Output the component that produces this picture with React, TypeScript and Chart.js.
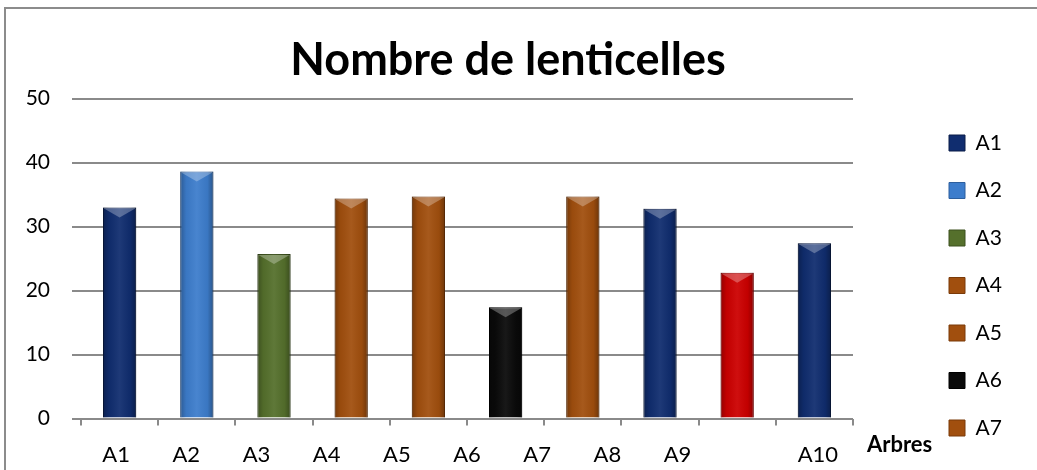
import React, { useEffect, useRef } from "react";
import { Chart, registerables } from "chart.js";

Chart.register(...registerables);

const chartTitle = "Nombre de lenticelles";
const xAxisTitle = "Arbres";
const categories = ["A1", "A2", "A3", "A4", "A5", "A6", "A7", "A8", "A9", "A10"];
const values = [33.0, 38.6, 25.7, 34.4, 34.7, 17.4, 34.7, 32.8, 22.8, 27.4];
const barColors = [
  "#102d6f", "#3d7dcc", "#55702c", "#a14f0e", "#a14f0e",
  "#0a0a0a", "#a14f0e", "#102d6f", "#cc0000", "#102d6f",
];
const barBorders = [
  "#0a1d49", "#2d5f9e", "#3c501e", "#7a3a08", "#7a3a08",
  "#000000", "#7a3a08", "#0a1d49", "#990000", "#0a1d49",
];
// labels of the category axis as printed under the plot
const axisLabels = ["A1", "A2", "A3", "A4", "A5", "A6", "A7", "A8", "A9", "", "A10"];
const yTickValues = [0, 10, 20, 30, 40, 50];
const legendShown = 7;

const FONT = "Lato";
const LEGEND_FONT = 21;
const LEGEND_BOX = 16;
const LEGEND_PAD = 26.5;
const LEGEND_WIDTH = 93.5; // block width reserved for the legend
const PAD_RIGHT = 21;
const GAP = 69.5; // space between plot and legend block
const Y_AXIS_WIDTH = 81;

const legendWidthPlugin = {
  id: "legendWidth",
  beforeUpdate(chart: any) {
    const lg = chart.legend;
    if (lg && !lg.__fixedWidth) {
      const orig = lg.fit.bind(lg);
      lg.fit = function () {
        orig();
        this.width = LEGEND_WIDTH;
      };
      lg.__fixedWidth = true;
    }
  },
};

const bevelPlugin = {
  id: "bevel",
  afterDatasetsDraw(chart: any) {
    const ctx = chart.ctx;
    chart.data.datasets.forEach((_: any, di: number) => {
      const meta = chart.getDatasetMeta(di);
      meta.data.forEach((el: any, i: number) => {
        const v = chart.data.datasets[di].data[i];
        if (v === null || v === undefined) return;
        const { x, y, width, base } = el.getProps(["x", "y", "width", "base"], true);
        const left = x - width / 2;
        const right = x + width / 2;
        ctx.save();
        const g = ctx.createLinearGradient(left, 0, right, 0);
        g.addColorStop(0, "rgba(0,0,0,0.28)");
        g.addColorStop(0.18, "rgba(0,0,0,0.05)");
        g.addColorStop(0.5, "rgba(255,255,255,0.06)");
        g.addColorStop(0.82, "rgba(0,0,0,0.05)");
        g.addColorStop(1, "rgba(0,0,0,0.32)");
        ctx.fillStyle = g;
        ctx.fillRect(left, y, width, base - y);
        ctx.beginPath();
        ctx.moveTo(left + 1, y + 1);
        ctx.lineTo(right - 1, y + 1);
        ctx.lineTo(x, y + width * 0.3);
        ctx.closePath();
        ctx.fillStyle = "rgba(255,255,255,0.28)";
        ctx.fill();
        ctx.restore();
      });
    });
  },
};

const axisTitlePlugin = {
  id: "axisTitleRight",
  afterDraw(chart: any) {
    const { ctx, chartArea } = chart;
    ctx.save();
    ctx.font = `bold 22px ${FONT}`;
    ctx.fillStyle = "#000";
    ctx.textAlign = "left";
    ctx.textBaseline = "middle";
    ctx.fillText(xAxisTitle, chartArea.right + 14, chartArea.bottom + 26.5);
    ctx.restore();
  },
};

export default function App() {
  const ref = useRef<HTMLCanvasElement | null>(null);

  useEffect(() => {
    if (!ref.current) return;
    const datasets = categories.map((name, i) => ({
      label: name,
      data: categories.map((_, j) => (j === i ? values[i] : null)),
      backgroundColor: barColors[i],
      borderColor: barBorders[i],
      borderWidth: 1,
      grouped: false,
      barPercentage: 0.43,
      categoryPercentage: 1,
      xAxisID: "x",
      yAxisID: "y",
    }));
    const gridColor = "#8a8a8a";
    const chart = new Chart(ref.current, {
      type: "bar",
      data: { labels: categories, datasets },
      plugins: [legendWidthPlugin, bevelPlugin, axisTitlePlugin],
      options: {
        animation: false,
        responsive: false,
        maintainAspectRatio: false,
        devicePixelRatio: 1,
        layout: { padding: { left: 0, right: PAD_RIGHT, top: 0, bottom: 5 } },
        plugins: {
          tooltip: { enabled: false },
          title: {
            display: true,
            text: chartTitle,
            color: "#000",
            font: { family: FONT, size: 45, weight: "bold" },
            padding: { top: 33, bottom: 11.7 },
          },
          legend: {
            position: "right",
            align: "end",
            labels: {
              color: "#000",
              font: { family: FONT, size: LEGEND_FONT },
              boxWidth: LEGEND_BOX,
              boxHeight: LEGEND_BOX,
              padding: LEGEND_PAD,
              filter: (item: any) => item.datasetIndex < legendShown,
            },
          },
        },
        scales: {
          x: {
            type: "category",
            position: "bottom",
            offset: true,
            grid: {
              display: true,
              drawOnChartArea: false,
              drawTicks: true,
              tickLength: 7,
              offset: true,
              color: gridColor,
              lineWidth: 2,
            },
            border: { display: false },
            ticks: { display: false },
          },
          xLabels: {
            type: "category",
            position: "bottom",
            labels: axisLabels,
            offset: true,
            grid: { display: false, drawTicks: false, tickLength: 0 },
            border: { display: false },
            ticks: {
              color: "#000",
              font: { family: FONT, size: 22 },
              padding: 16,
              maxRotation: 0,
              autoSkip: false,
            },
            afterFit: (s: any) => {
              s.height = 39.5;
            },
          },
          y: {
            type: "linear",
            position: "left",
            min: 0,
            max: 50,
            afterBuildTicks: (s: any) => {
              s.ticks = yTickValues.map((v) => ({ value: v }));
            },
            grid: { color: gridColor, lineWidth: 2, tickLength: 9 },
            border: { display: false },
            ticks: {
              color: "#000",
              font: { family: FONT, size: 21 },
              padding: 22,
            },
            afterFit: (s: any) => {
              s.width = Y_AXIS_WIDTH;
            },
          },
          gap: {
            type: "linear",
            position: "right",
            display: true,
            grid: { display: false },
            border: { display: false },
            ticks: { display: false },
            afterFit: (s: any) => {
              s.width = GAP;
            },
          },
        },
      } as any,
    });
    return () => chart.destroy();
  }, []);

  return (
    <div
      style={{
        position: "fixed",
        left: 0,
        top: 0,
        width: 1037,
        height: 470,
        overflow: "hidden",
        background: "#fff",
      }}
    >
      <div
        style={{
          position: "absolute",
          left: 4,
          top: 7,
          width: 1200,
          height: 700,
          border: "2px solid #8c8c8c",
        }}
      />
      <canvas
        ref={ref}
        width={1037}
        height={470}
        style={{ position: "absolute", left: 0, top: 0 }}
      />
    </div>
  );
}
